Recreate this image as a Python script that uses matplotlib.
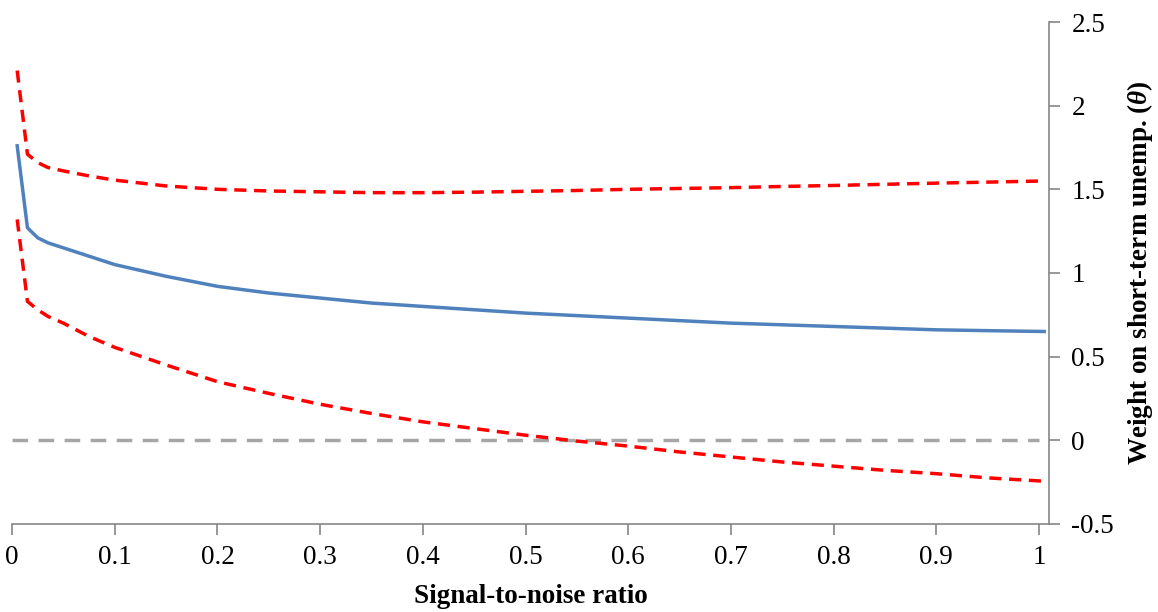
import numpy as np
import matplotlib.pyplot as plt

plt.rcParams['font.family'] = ['Liberation Serif', 'DejaVu Serif']
plt.rcParams['mathtext.fontset'] = 'custom'
plt.rcParams['mathtext.rm'] = 'Liberation Serif'
plt.rcParams['mathtext.it'] = 'Liberation Serif:italic'
plt.rcParams['mathtext.bf'] = 'Liberation Serif:bold'
plt.rcParams['mathtext.bfit'] = 'Liberation Serif:italic:bold'

# signal-to-noise ratio (x) and weights
snr = [0.005, 0.015, 0.025, 0.035, 0.05, 0.075, 0.1, 0.15, 0.2, 0.25, 0.3, 0.35,
       0.4, 0.45, 0.5, 0.55, 0.6, 0.65, 0.7, 0.75, 0.8, 0.85, 0.9, 0.95, 1.005]
theta = [1.76, 1.27, 1.21, 1.18, 1.15, 1.10, 1.05, 0.98, 0.92, 0.88, 0.85, 0.82,
         0.80, 0.78, 0.76, 0.745, 0.73, 0.715, 0.70, 0.69, 0.68, 0.67, 0.66, 0.655, 0.65]
upper = [2.21, 1.71, 1.66, 1.63, 1.61, 1.58, 1.555, 1.52, 1.50, 1.49, 1.485, 1.48,
         1.48, 1.483, 1.488, 1.493, 1.50, 1.505, 1.51, 1.517, 1.523, 1.53, 1.537, 1.543, 1.55]
lower = [1.32, 0.83, 0.78, 0.74, 0.70, 0.62, 0.555, 0.45, 0.35, 0.28, 0.215, 0.16,
         0.11, 0.07, 0.03, -0.005, -0.035, -0.07, -0.10, -0.13, -0.155, -0.18, -0.20, -0.225, -0.245]
zero_x = [0.0, 1.0]
zero_y = [0, 0]

fig = plt.figure(figsize=(11.58, 6.12), dpi=100)
ax = fig.add_axes([0.0104, 0.144, 0.8955, 0.82])

ax.plot(zero_x, zero_y, color='#A6A6A6', lw=2.5, dashes=(4.5, 3))
ax.plot(snr, lower, color='#FF0000', lw=2.5, dashes=(3.5, 2.2))
ax.plot(snr, upper, color='#FF0000', lw=2.5, dashes=(3.5, 2.2))
ax.plot(snr, theta, color='#4F81BD', lw=2.5)

ax.set_xlim(0, 1.0097)
ax.set_ylim(-0.5, 2.5)
ax.set_xticks(np.arange(0, 1.01, 0.1))
ax.set_xticklabels(['0', '0.1', '0.2', '0.3', '0.4', '0.5', '0.6', '0.7', '0.8', '0.9', '1'])
ax.set_yticks(np.arange(-0.5, 2.51, 0.5))
ax.set_yticklabels(['-0.5', '0', '0.5', '1', '1.5', '2', '2.5'])

ax.yaxis.tick_right()
ax.yaxis.set_label_position('right')
for s in ['left', 'top']:
    ax.spines[s].set_visible(False)
for s in ['right', 'bottom']:
    ax.spines[s].set_color('#868686')
    ax.spines[s].set_linewidth(1.2)
ax.tick_params(axis='both', colors='#868686', labelcolor='black', labelsize=19.5,
               length=8, width=1.2, direction='out')
ax.tick_params(axis='x', pad=7)
ax.tick_params(axis='y', pad=8)

ax.set_xlabel('Signal-to-noise ratio', fontsize=19.5, fontweight='bold', labelpad=10)
ax.set_ylabel(r'Weight on short-term unemp. ($\mathbfit{\theta}$)', fontsize=19.5,
              fontweight='bold', labelpad=8)

fig.savefig('out.png', dpi=100)
